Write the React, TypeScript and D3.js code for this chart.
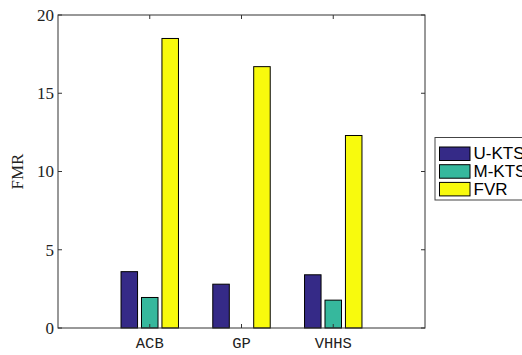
import React from "react";
import * as d3 from "d3";

const categories = ["ACB", "GP", "VHHS"];
const seriesNames = ["U-KTS", "M-KTS", "FVR"];
const uKts = [3.6, 2.8, 3.4];
const mKts = [1.95, 0, 1.78];
const fvr = [18.5, 16.7, 12.3];
const yTicks = [0, 5, 10, 15, 20];
const colors = ["#352a87", "#36b89d", "#f8fa0d"];

const W = 522;
const H = 355;
const left = 58;
const right = 425;
const top = 15;
const bottom = 328;

export default function App() {
  const series = [uKts, mKts, fvr];
  const x = d3.scaleLinear().domain([0, 4]).range([left, right]);
  const y = d3.scaleLinear().domain([0, 20]).range([bottom, top]);
  const barW = 0.18;
  const step = 0.223;
  const axisColor = "#333";
  const tickLen = 4;

  return (
    <svg
      width={W}
      height={H}
      style={{ position: "absolute", left: 0, top: 0, background: "#fff" }}
    >
      {/* bars */}
      {series.map((vals, si) =>
        vals.map((v, ci) => {
          const cx = ci + 1 + (si - 1) * step;
          const x0 = x(cx - barW / 2);
          const x1 = x(cx + barW / 2);
          if (v <= 0) return null;
          return (
            <rect
              key={`${si}-${ci}`}
              x={x0}
              y={y(v)}
              width={x1 - x0}
              height={y(0) - y(v)}
              fill={colors[si]}
              stroke="#000"
              strokeWidth={1}
            />
          );
        })
      )}

      {/* axes box */}
      <rect
        x={left}
        y={top}
        width={right - left}
        height={bottom - top}
        fill="none"
        stroke={axisColor}
        strokeWidth={1}
      />

      {/* y ticks */}
      {yTicks.map((t) => (
        <g key={t}>
          <line x1={left} x2={left + tickLen} y1={y(t)} y2={y(t)} stroke={axisColor} />
          <line x1={right} x2={right - tickLen} y1={y(t)} y2={y(t)} stroke={axisColor} />
          <text
            x={left - 4}
            y={y(t)}
            dy="0.35em"
            textAnchor="end"
            fontFamily="'Liberation Serif', 'DejaVu Serif', serif"
            fontSize={17}
            fill="#222"
          >
            {t}
          </text>
        </g>
      ))}

      {/* x ticks */}
      {categories.map((c, i) => (
        <g key={c}>
          <line x1={x(i + 1)} x2={x(i + 1)} y1={bottom} y2={bottom - tickLen} stroke={axisColor} />
          <line x1={x(i + 1)} x2={x(i + 1)} y1={top} y2={top + tickLen} stroke={axisColor} />
          <text
            x={x(i + 1)}
            y={348}
            textAnchor="middle"
            fontFamily="'Liberation Mono', 'DejaVu Sans Mono', monospace"
            fontSize={15.5}
            fill="#222"
          >
            {c}
          </text>
        </g>
      ))}

      {/* y label */}
      <text
        transform={`translate(23, ${(top + bottom) / 2}) rotate(-90)`}
        textAnchor="middle"
        fontFamily="'Liberation Serif', 'DejaVu Serif', serif"
        fontSize={17}
        fill="#222"
      >
        FMR
      </text>

      {/* legend */}
      <g>
        <rect x={435} y={137.5} width={100} height={62.5} fill="#fff" stroke="#444" strokeWidth={1} />
        {seriesNames.map((n, i) => (
          <g key={n}>
            <rect
              x={439.5}
              y={147 + i * 17.7}
              width={30.5}
              height={13.5}
              fill={colors[i]}
              stroke="#000"
              strokeWidth={1}
            />
            <text
              x={473.5}
              y={159.3 + i * 17.7}
              fontFamily="'Liberation Sans', Arial, sans-serif"
              fontSize={17}
              fill="#000"
            >
              {n}
            </text>
          </g>
        ))}
      </g>
    </svg>
  );
}
